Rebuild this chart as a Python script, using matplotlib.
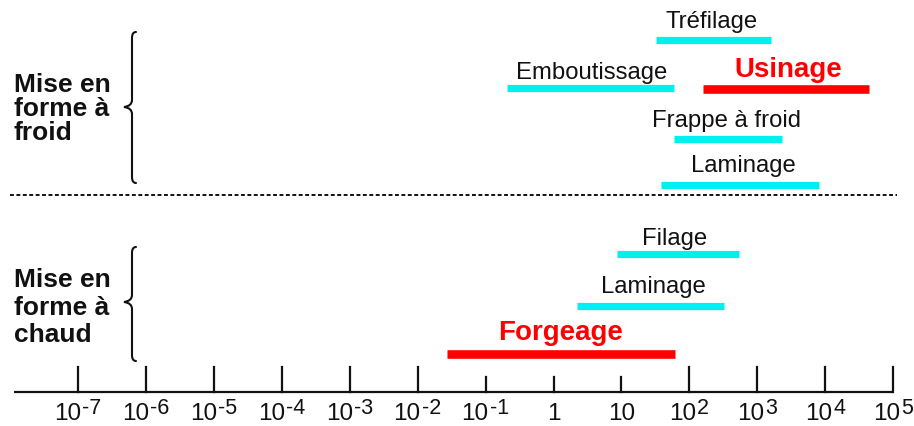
import matplotlib
matplotlib.use('Agg')
import matplotlib.pyplot as plt
from matplotlib.path import Path
from matplotlib.patches import PathPatch

plt.rcParams['font.family'] = ['Liberation Sans', 'DejaVu Sans']

# plages de vitesse de deformation (s-1) pour chaque procede
procedes = ['Tréfilage', 'Emboutissage', 'Usinage', 'Frappe à froid', 'Laminage',
            'Filage', 'Laminage', 'Forgeage']
v_min = [32, 0.21, 160, 59, 38, 8.7, 2.2, 0.027]
v_max = [1600, 59, 45000, 2300, 8100, 540, 320, 62]
exposants = [-7, -6, -5, -4, -3, -2, -1, 0, 1, 2, 3, 4, 5]
groupes = [['Mise en', 'forme à', 'froid'], ['Mise en', 'forme à', 'chaud']]

# mise en page (pixels)
bar_y = [40, 88, 89, 139, 185, 254, 306, 354]
lab_pos = [(712, 28), (592, 79), (788, 77), (727, 127), (743, 172),
           (675, 245), (653, 293), (561, 340)]
rouge = [False, False, True, False, False, False, False, True]
grp_base = [[92, 116.5, 140], [287, 315, 342]]
accolades = [(32, 183, 107), (247, 361, 302)]

W, H = 914, 426
x0_px, px_dec = 553.5, 67.9  # position de 1 et largeur d'une decade

fig = plt.figure(figsize=(W / 100, H / 100), dpi=100)
ov = fig.add_axes([0, 0, 1, 1])
ov.set_xlim(0, W)
ov.set_ylim(H, 0)
ov.axis('off')

ax = fig.add_axes([0, 0, 1, 1])
ax.set_xscale('log')
ax.set_xlim(10 ** ((0 - x0_px) / px_dec), 10 ** ((W - x0_px) / px_dec))
ax.set_ylim(H, 0)
ax.axis('off')
ax.patch.set_alpha(0)

cyan = '#00F0F0'
red = '#FF0000'
ink = '#111111'

# barres
for i in range(len(procedes)):
    col = red if rouge[i] else cyan
    lw = 6.2 if rouge[i] else 5.2
    ax.plot([v_min[i], v_max[i]], [bar_y[i], bar_y[i]], color=col, lw=lw,
            solid_capstyle='butt')
    x, y = lab_pos[i]
    if rouge[i]:
        ov.text(x, y, procedes[i], color=red, fontsize=20, fontweight='bold',
                ha='center', va='baseline')
    else:
        ov.text(x, y, procedes[i], color=ink, fontsize=17.2,
                ha='center', va='baseline')

# axe horizontal
ax.plot([10 ** ((14 - x0_px) / px_dec), 1e5], [392, 392], color=ink, lw=1.6,
        solid_capstyle='butt')
for k in exposants:
    top = 377 if k in (-1, 0, 1) else 367
    ax.plot([10.0 ** k, 10.0 ** k], [top, 392], color=ink, lw=1.6)
    if k == 0:
        ax.annotate('1', (10.0 ** k, 420), ha='center', va='baseline',
                    fontsize=17.5, color=ink)
    elif k == 1:
        ax.annotate('10', (10.0 ** k, 420), ha='center', va='baseline',
                    fontsize=17.5, color=ink)
    else:
        dx = 3 if k < 0 else 7
        ax.annotate('10', (10.0 ** k, 420), xytext=(dx, 0),
                    textcoords='offset pixels', ha='right', va='baseline',
                    fontsize=17.5, color=ink)
        ax.annotate(str(k), (10.0 ** k, 420), xytext=(dx + 1, 6),
                    textcoords='offset pixels', ha='left', va='baseline',
                    fontsize=15.5, color=ink)

# ligne pointillee de separation
ov.plot([10, 897], [195, 195], color=ink, lw=1.4, dashes=(2.0, 1.3))

# groupes et accolades
for g, lignes in enumerate(groupes):
    for txt, yb in zip(lignes, grp_base[g]):
        ov.text(14, yb, txt, fontsize=19, fontweight='bold', color=ink,
                ha='left', va='baseline')
    y0, y1, ym = accolades[g]
    xs = 132
    verts = [(xs + 4, y0), (xs, y0), (xs, y0 + 6), (xs, ym - 7),
             (xs, ym - 1), (xs - 8, ym), (xs, ym + 1), (xs, ym + 7),
             (xs, y1 - 6), (xs, y1), (xs + 4, y1)]
    codes = [Path.MOVETO, Path.CURVE3, Path.CURVE3, Path.LINETO,
             Path.CURVE3, Path.CURVE3, Path.CURVE3, Path.CURVE3,
             Path.LINETO, Path.CURVE3, Path.CURVE3]
    ov.add_patch(PathPatch(Path(verts, codes), fill=False, lw=1.5,
                           edgecolor=ink, capstyle='round'))

fig.savefig('out.png', dpi=100)
